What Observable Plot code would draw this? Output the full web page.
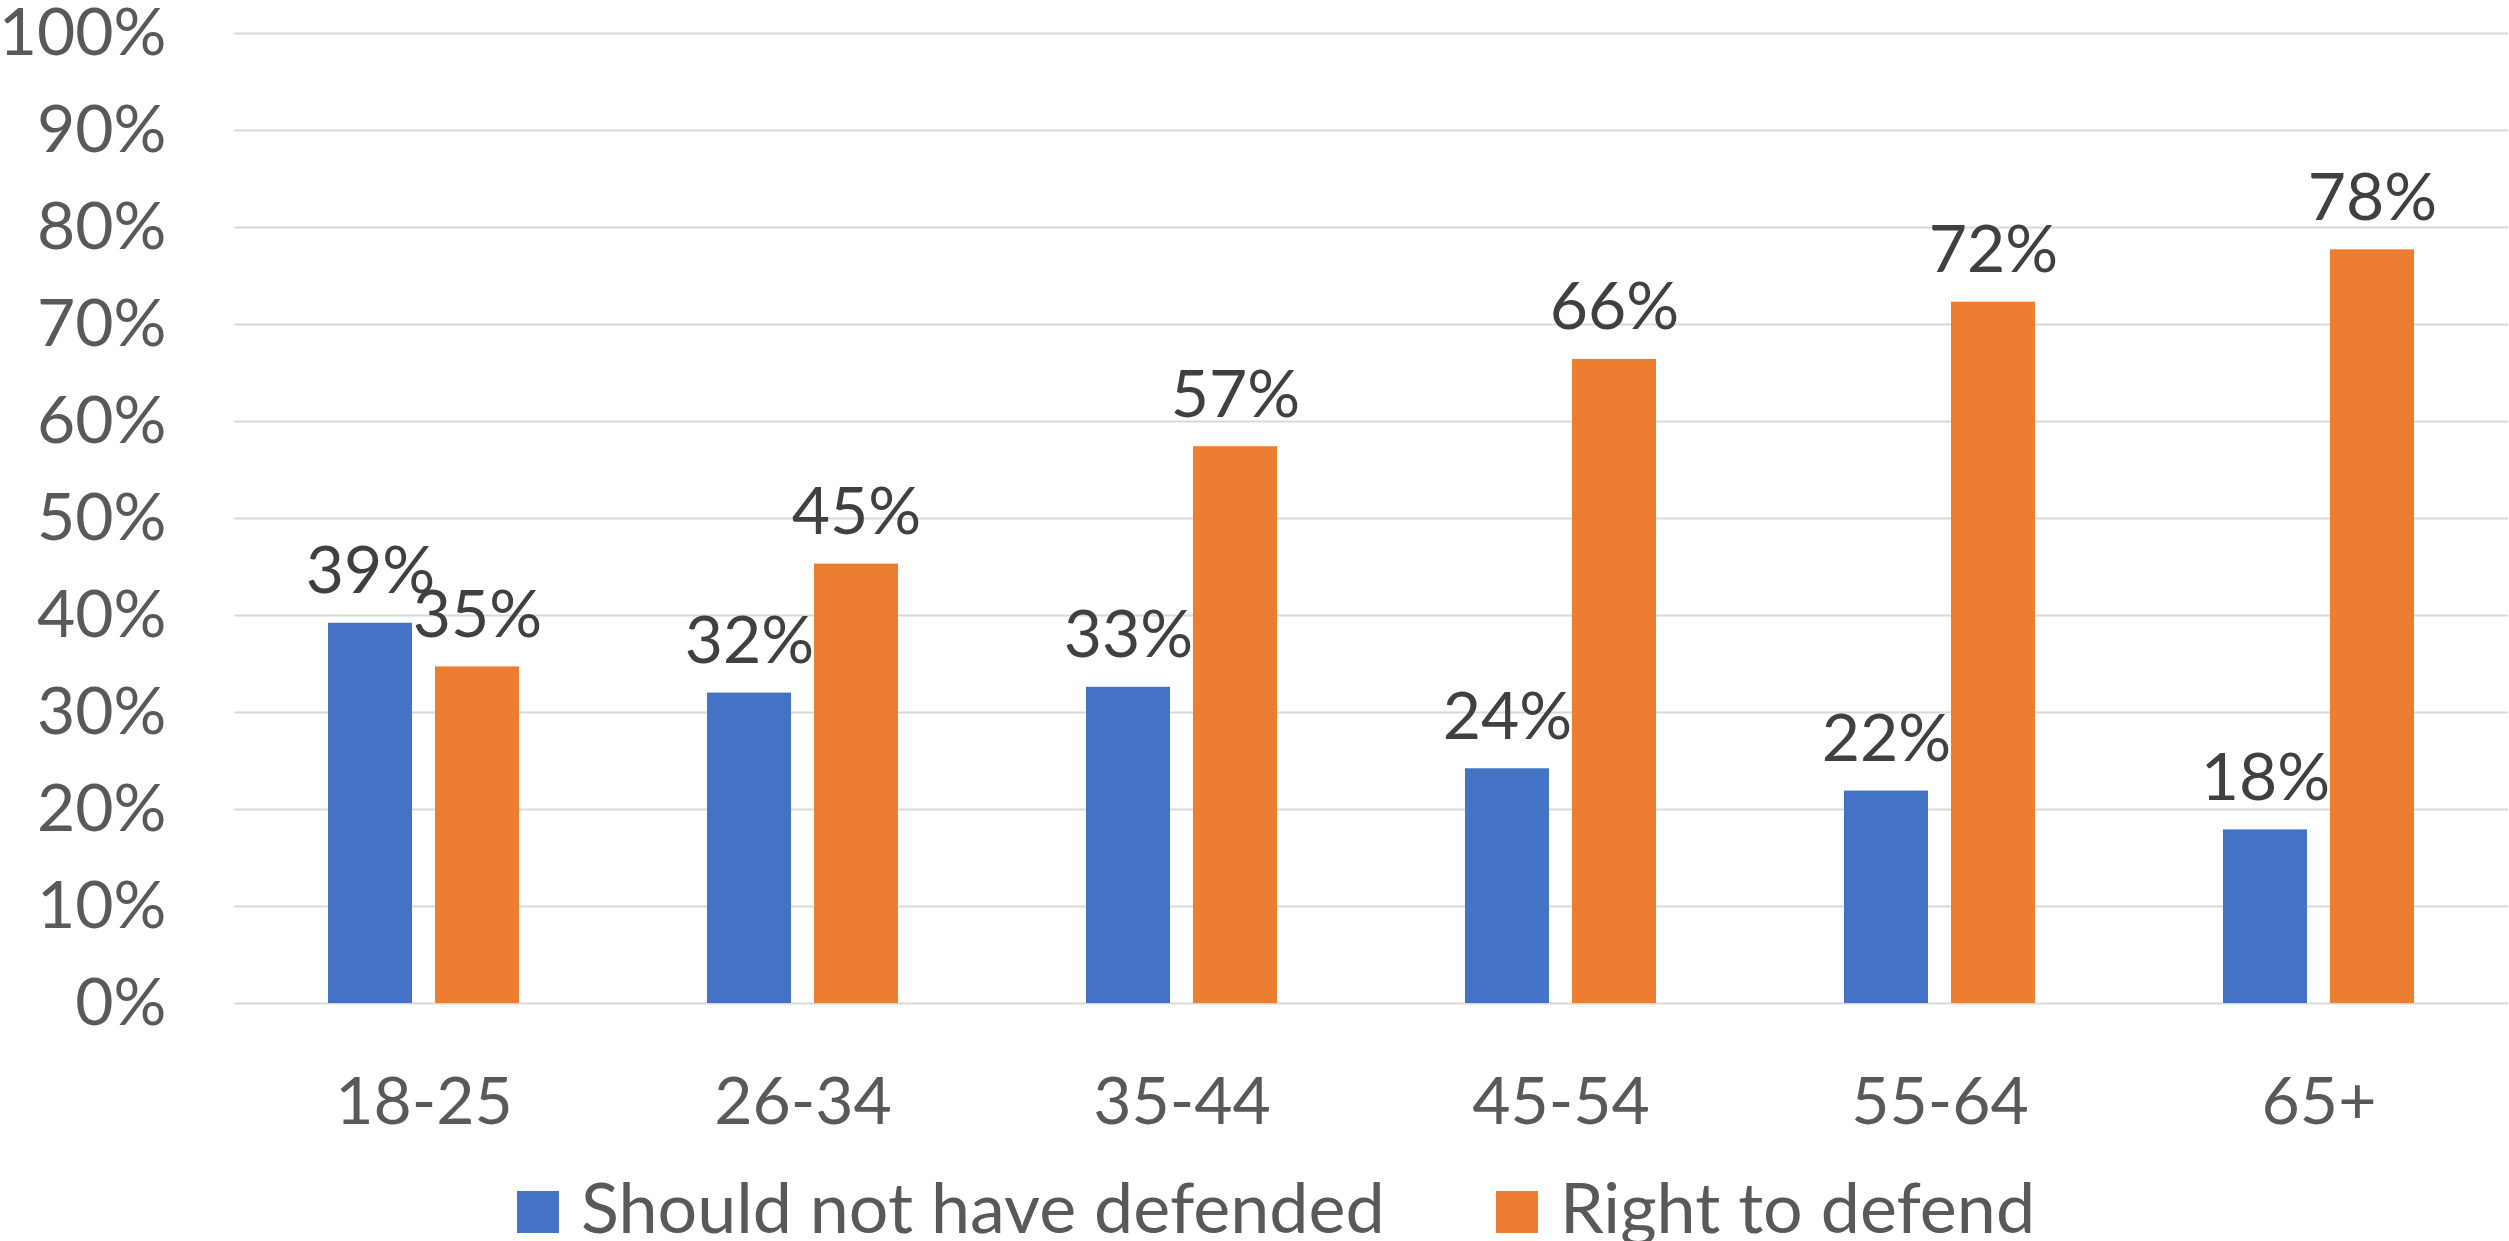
<!DOCTYPE html>
<html>
<head>
<meta charset="utf-8">
<script src="https://cdn.jsdelivr.net/npm/d3@7"></script>
<script src="https://cdn.jsdelivr.net/npm/@observablehq/plot@0.6"></script>
<style>
  body { margin: 0; background: #fff; font-family: Lato, "Open Sans", sans-serif; }
  #legend { position: relative; height: 91px; }
  .item { position: absolute; top: 0; display: flex; align-items: flex-end; height: 91px; }
  .swatch { width: 42px; height: 42px; margin-right: 22px; margin-bottom: 8px; }
  .item span { font-size: 70px; color: #595959; line-height: 1; }
</style>
</head>
<body>
<div id="chart"></div>
<div id="legend"></div>
<script>
// Age groups along the x axis
const ageGroups = ["18-25", "26-34", "35-44", "45-54", "55-64", "65+"];
// The two answers compared in each group
const series = ["Should not have defended", "Right to defend"];
const seriesColors = ["#4472C4", "#ED7D31"];
// Share of respondents per age group
const shouldNotHaveDefended = [0.392, 0.320, 0.326, 0.242, 0.219, 0.179];
const rightToDefend = [0.347, 0.453, 0.574, 0.664, 0.723, 0.777];
// Y axis ticks
const yTicks = [0, 0.1, 0.2, 0.3, 0.4, 0.5, 0.6, 0.7, 0.8, 0.9, 1];

const rows = ageGroups.flatMap((age, i) => [
  {age, answer: series[0], share: shouldNotHaveDefended[i]},
  {age, answer: series[1], share: rightToDefend[i]}
]);

const pct = d3.format(".0%");

const chart = Plot.plot({
  width: 2509,
  height: 1150,
  marginLeft: 233,
  marginRight: 0,
  marginTop: 33,
  marginBottom: 147,
  style: {fontFamily: "Lato, 'Open Sans', sans-serif", fontSize: "66px", color: "#595959", background: "#fff", overflow: "visible"},
  fx: {domain: ageGroups, padding: 0, label: null, axis: "bottom", tickSize: 0, tickPadding: 74},
  x: {domain: series, paddingInner: 0.213, paddingOuter: 0.862, axis: null},
  y: {domain: [0, 1], ticks: yTicks, tickFormat: pct, label: null, tickSize: 0, tickPadding: 68},
  color: {domain: series, range: seriesColors},
  marks: [
    Plot.gridY(yTicks, {stroke: "#d9d9d9", strokeOpacity: 1, strokeWidth: 2}),
    Plot.barY(rows, {fx: "age", x: "answer", y: "share", fill: "answer"}),
    Plot.text(rows, {
      fx: "age", x: "answer", y: "share",
      text: d => pct(d.share),
      lineAnchor: "bottom", dy: -30,
      fill: "#404040", fontSize: 66
    })
  ]
});
document.getElementById("chart").append(chart);

// Legend below the chart
const legend = d3.select("#legend");
const starts = [517, 1496];
series.forEach((name, i) => {
  const item = legend.append("div").attr("class", "item").style("left", starts[i] + "px");
  item.append("div").attr("class", "swatch").style("background", seriesColors[i]);
  item.append("span").text(name);
});
</script>
</body>
</html>
